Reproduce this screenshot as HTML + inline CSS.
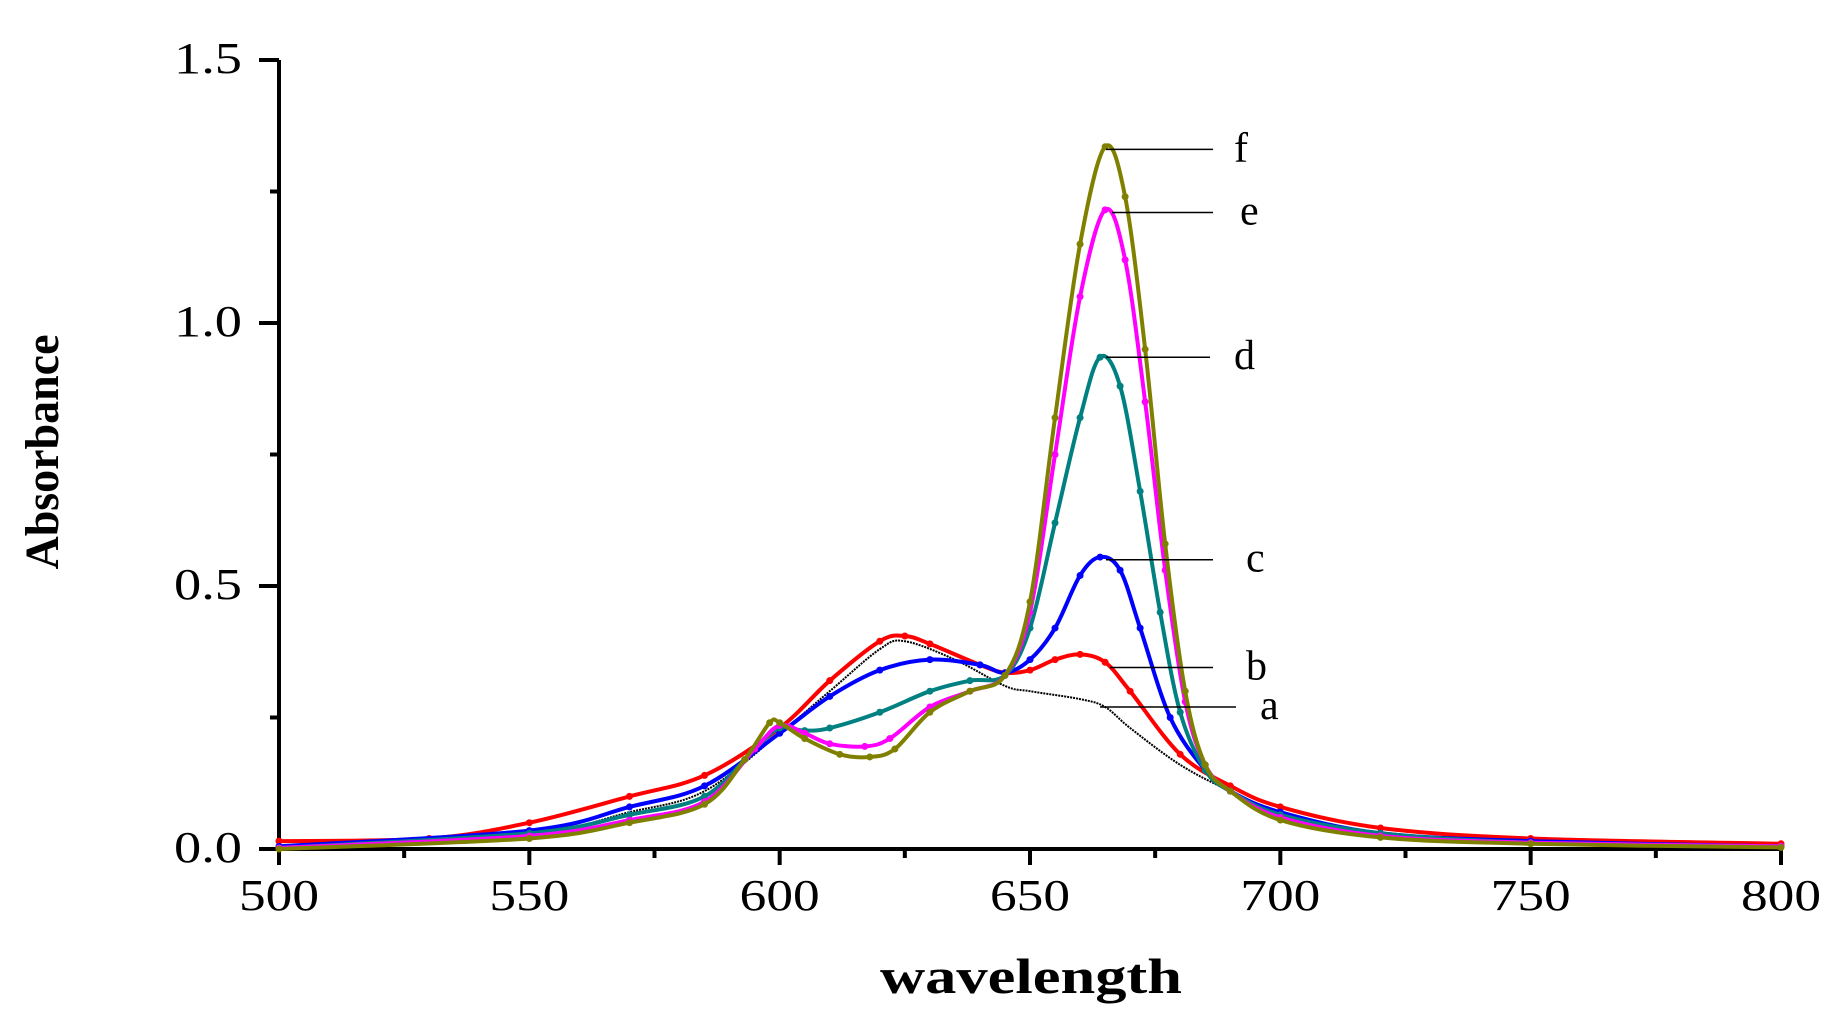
<!DOCTYPE html>
<html><head><meta charset="utf-8"><style>
html,body{margin:0;padding:0;background:#fff;}
svg{display:block;font-family:"Liberation Serif",serif;}
</style></head><body>
<svg id="chart" width="1843" height="1015" viewBox="0 0 1843 1015" xmlns="http://www.w3.org/2000/svg">
<g id="axes"></g>
<g id="series"></g>
<g id="labels"></g>
<text x="1031" y="993" font-size="50" font-weight="bold" text-anchor="middle" textLength="302" lengthAdjust="spacingAndGlyphs">wavelength</text>
<text transform="translate(58,452) rotate(-90)" font-size="48" font-weight="bold" text-anchor="middle" textLength="235" lengthAdjust="spacingAndGlyphs">Absorbance</text>
</svg>
<script>
const xTicks=[500,550,600,650,700,750,800];
const yTicks=[0.0,0.5,1.0,1.5];
const yTickLabels=["0.0","0.5","1.0","1.5"];
const seriesNames=["a","b","c","d","e","f"];
const seriesColors=["#000000","#ff0000","#0000ff","#008080","#ff00ff","#808000"];
const wlA=[500,550,570,585,600,610,620,625,635,645,650,660,665,670,680,690,700,720,750,800];
const absA=[0.005,0.03,0.07,0.11,0.22,0.30,0.38,0.395,0.36,0.31,0.30,0.285,0.27,0.23,0.16,0.11,0.07,0.03,0.015,0.005];
const wlB=[500,530,550,570,585,600,610,620,625,630,640,645,650,655,660,665,670,680,690,700,720,750,800];
const absB=[0.015,0.02,0.05,0.10,0.14,0.23,0.32,0.395,0.405,0.39,0.35,0.335,0.34,0.36,0.37,0.355,0.30,0.18,0.12,0.08,0.04,0.02,0.01];
const wlC=[500,550,570,585,600,610,620,630,640,645,650,655,660,664,668,672,678,685,690,700,720,750,800];
const absC=[0.005,0.035,0.08,0.12,0.22,0.29,0.34,0.36,0.35,0.335,0.36,0.42,0.52,0.555,0.53,0.42,0.25,0.15,0.11,0.07,0.03,0.015,0.005];
const wlD=[500,550,570,585,595,600,605,610,620,630,638,645,650,655,660,664,668,672,676,680,685,690,700,720,750,800];
const absD=[0.002,0.03,0.065,0.10,0.19,0.23,0.225,0.23,0.26,0.30,0.32,0.33,0.42,0.62,0.82,0.935,0.88,0.68,0.45,0.26,0.15,0.11,0.065,0.03,0.012,0.005];
const wlE=[500,550,570,585,595,600,605,610,617,622,630,638,645,650,655,660,665,669,673,677,681,685,690,700,720,750,800];
const absE=[0.002,0.025,0.055,0.09,0.19,0.235,0.22,0.20,0.195,0.21,0.27,0.30,0.33,0.45,0.75,1.05,1.215,1.12,0.85,0.53,0.28,0.16,0.11,0.06,0.025,0.012,0.005];
const wlF=[500,550,570,585,593,598,600,605,612,618,623,630,638,645,650,655,660,665,669,673,677,681,685,690,700,720,750,800];
const absF=[0.0,0.02,0.05,0.085,0.17,0.24,0.24,0.21,0.18,0.175,0.19,0.26,0.30,0.33,0.47,0.82,1.15,1.335,1.24,0.95,0.58,0.30,0.16,0.11,0.055,0.022,0.01,0.003];
const seriesX=[wlA,wlB,wlC,wlD,wlE,wlF];
const seriesY=[absA,absB,absC,absD,absE,absF];
const labelY=[0.27,0.345,0.55,0.935,1.21,1.33];

const NS="http://www.w3.org/2000/svg";
const X0=279,X1=1781,Y0=849,Y1=60;
function sx(v){return X0+(v-500)/300*(X1-X0);}
function sy(v){return Y0-(v/1.5)*(Y0-Y1);}
function mk(tag,attrs,parent){const e=document.createElementNS(NS,tag);for(const k in attrs)e.setAttribute(k,attrs[k]);parent.appendChild(e);return e;}
const axes=document.getElementById('axes');
let e;
e=mk('line',{x1:X0,y1:Y1,x2:X0,y2:Y0+2,stroke:'#000','stroke-width':4},axes);


e=mk('line',{x1:X0-2,y1:Y0,x2:X1,y2:Y0,stroke:'#000','stroke-width':4},axes);


for(let v=500;v<=800;v+=25){
  const major=(v%50===0);
  e=mk('line',{x1:sx(v),y1:Y0,x2:sx(v),y2:Y0+(major?16:9),stroke:'#000','stroke-width':4},axes);
  
  
}
xTicks.forEach(v=>{
  e=mk('text',{x:sx(v),y:910,'font-size':44,'text-anchor':'middle',textLength:80,lengthAdjust:'spacingAndGlyphs'},axes);e.textContent=v;
  
  
});
for(let v=0;v<=1.5001;v+=0.25){
  const major=Math.abs(v*2-Math.round(v*2))<1e-6;
  e=mk('line',{x1:X0-(major?20:9),y1:sy(v),x2:X0,y2:sy(v),stroke:'#000','stroke-width':4},axes);
  
  
}
yTicks.forEach((v,i)=>{
  e=mk('text',{x:242,y:sy(v)+13,'font-size':44,'text-anchor':'end',textLength:68,lengthAdjust:'spacingAndGlyphs'},axes);e.textContent=yTickLabels[i];
  
  
});
function pathOf(xs,ys){
  const p=xs.map((x,i)=>[sx(x),sy(ys[i])]);
  let d='M'+p[0][0]+','+p[0][1];
  for(let i=0;i<p.length-1;i++){
    const p0=p[Math.max(0,i-1)],p1=p[i],p2=p[i+1],p3=p[Math.min(p.length-1,i+2)];
    const c1x=p1[0]+(p2[0]-p0[0])/6,c1y=p1[1]+(p2[1]-p0[1])/6;
    const c2x=p2[0]-(p3[0]-p1[0])/6,c2y=p2[1]-(p3[1]-p1[1])/6;
    d+=' C'+c1x+','+c1y+' '+c2x+','+c2y+' '+p2[0]+','+p2[1];
  }
  return d;
}
const sg=document.getElementById('series');
seriesX.forEach((xs,i)=>{
  const ys=seriesY[i];
  const g=mk('g',{},sg);
  
  
  e=mk('path',{d:pathOf(xs,ys),fill:'none',stroke:seriesColors[i],'stroke-width':i===0?2:4,'stroke-dasharray':i===0?'2 1':'none'},g);
  
  
  if(i>0){xs.forEach((x,j)=>{
    e=mk('circle',{cx:sx(x),cy:sy(ys[j]),r:3.5,fill:seriesColors[i]},g);
    
    
  });}
});
const lg=document.getElementById('labels');
const lineStart=[1100,1110,1106,1106,1112,1106];
const lineEnd=[1236,1213,1213,1210,1213,1213];
const textX=[1260,1246,1246,1234,1240,1234];
seriesNames.forEach((n,i)=>{
  const y=sy(labelY[i]);
  e=mk('line',{x1:lineStart[i],y1:y,x2:lineEnd[i],y2:y,stroke:'#000','stroke-width':1.5},lg);
  
  
  e=mk('text',{x:textX[i],y:y+12,'font-size':42},lg);e.textContent=n;
  
  
});
</script>
</body></html>
